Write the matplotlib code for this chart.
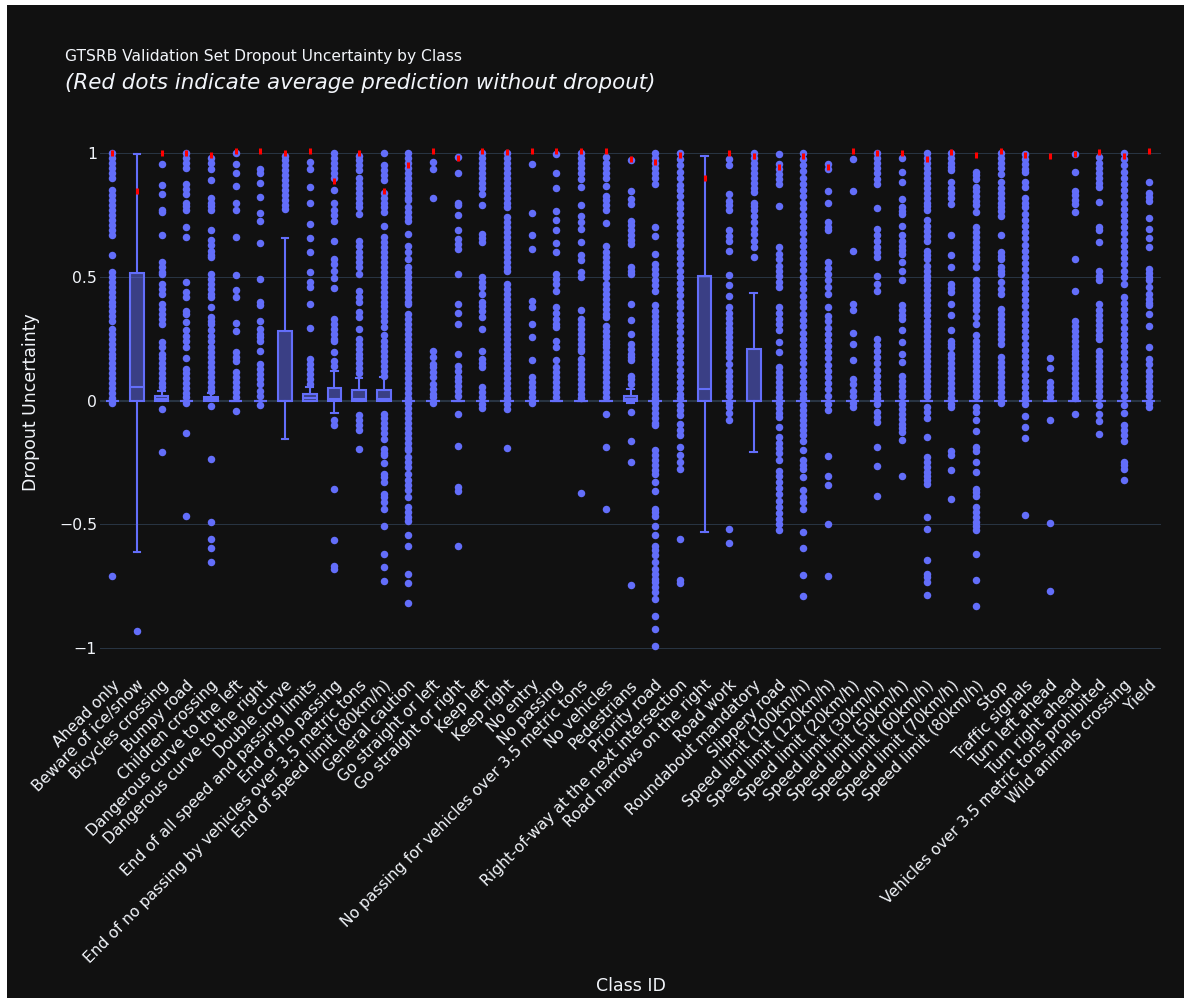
import matplotlib
matplotlib.use("Agg")
import matplotlib.pyplot as plt
from matplotlib.patches import Rectangle
from matplotlib.transforms import ScaledTranslation

class_names = [
    "Ahead only", "Beware of ice/snow", "Bicycles crossing", "Bumpy road",
    "Children crossing", "Dangerous curve to the left", "Dangerous curve to the right",
    "Double curve", "End of all speed and passing limits", "End of no passing",
    "End of no passing by vehicles over 3.5 metric tons", "End of speed limit (80km/h)",
    "General caution", "Go straight or left", "Go straight or right", "Keep left",
    "Keep right", "No entry", "No passing", "No passing for vehicles over 3.5 metric tons",
    "No vehicles", "Pedestrians", "Priority road", "Right-of-way at the next intersection",
    "Road narrows on the right", "Road work", "Roundabout mandatory", "Slippery road",
    "Speed limit (100km/h)", "Speed limit (120km/h)", "Speed limit (20km/h)",
    "Speed limit (30km/h)", "Speed limit (50km/h)", "Speed limit (60km/h)",
    "Speed limit (70km/h)", "Speed limit (80km/h)", "Stop", "Traffic signals",
    "Turn left ahead", "Turn right ahead", "Vehicles over 3.5 metric tons prohibited",
    "Wild animals crossing", "Yield",
]

# average prediction without dropout (red marks)
no_dropout_mean = [
    1.0, 0.845, 1.0, 1.0, 0.994, 1.007, 1.01, 1.0, 1.01, 0.886,
    1.0, 0.845, 0.952, 1.01, 0.979, 1.007, 1.003, 1.01, 1.01, 1.007,
    1.007, 0.974, 0.963, 0.994, 0.898, 1.0, 0.986, 0.945, 0.99, 0.945,
    1.01, 1.0, 1.0, 0.976, 1.003, 0.994, 1.01, 0.994, 0.99, 0.997,
    1.003, 0.987, 1.01,
]

# box statistics per class
box_q1 = [
    0, 0, 0, 0, 0, 0, 0, 0, 0, 0,
    0, 0, 0, 0, 0, 0, 0, 0, 0, 0,
    0, 0, 0, 0, 0, 0, 0, 0, 0, 0,
    0, 0, 0, 0, 0, 0, 0, 0, 0, 0,
    0, 0, 0,
]
box_median = [
    0, 0.054, 0.008, 0, 0.005, 0, 0, 0, 0.01, 0.008,
    0.008, 0.008, 0, 0, 0, 0, 0, 0, 0, 0,
    0, 0.006, 0, 0, 0.047, 0, 0, 0, 0, 0,
    0, 0, 0, 0, 0, 0, 0, 0, 0, 0,
    0, 0, 0,
]
box_q3 = [
    0, 0.514, 0.02, 0, 0.013, 0, 0, 0.279, 0.027, 0.051,
    0.043, 0.043, 0, 0, 0, 0, 0, 0, 0, 0,
    0, 0.02, 0, 0, 0.502, 0, 0.209, 0, 0, 0,
    0, 0, 0, 0, 0, 0, 0, 0, 0, 0,
    0, 0, 0,
]
whisker_low = [
    0, -0.614, 0, 0, 0, 0, 0, -0.155, 0, -0.051,
    0, 0, 0, 0, 0, 0, 0, 0, 0, 0,
    0, -0.01, 0, 0, -0.532, 0, -0.209, 0, 0, 0,
    0, 0, 0, 0, 0, 0, 0, 0, 0, 0,
    0, 0, 0,
]
whisker_high = [
    0, 0.997, 0.04, 0, 0.03, 0, 0, 0.657, 0.054, 0.12,
    0.09, 0.094, 0, 0, 0, 0, 0, 0, 0, 0,
    0, 0.045, 0, 0, 0.99, 0, 0.434, 0, 0, 0,
    0, 0, 0, 0, 0, 0, 0, 0, 0, 0,
    0, 0, 0,
]

# outlier points, one row per class
outliers = [
    [1.0, 0.98, 0.96, 0.94, 0.92, 0.9, 0.85, 0.83, 0.81, 0.79, 0.77, 0.75, 0.73, 0.71, 0.69,
     0.67, 0.59, 0.52, 0.5, 0.48, 0.46, 0.44, 0.42, 0.4, 0.38, 0.36, 0.34, 0.32, 0.29, 0.27,
     0.25, 0.23, 0.21, 0.19, 0.17, 0.15, 0.13, 0.11, 0.09, 0.07, 0.05, 0.03, 0.01, -0.01, -0.71],
    [-0.933],
    [0.956, 0.87, 0.835, 0.77, 0.76, 0.67, 0.56, 0.54, 0.52, 0.51, 0.47, 0.45, 0.43, 0.39, 0.37,
     0.35, 0.33, 0.31, 0.235, 0.215, 0.19, 0.17, 0.15, 0.13, 0.11, 0.09, 0.07, 0.055, -0.034, -0.206],
    [1.0, 0.98, 0.96, 0.94, 0.875, 0.855, 0.835, 0.8, 0.785, 0.77, 0.7, 0.66, 0.478, 0.44, 0.42,
     0.36, 0.35, 0.317, 0.283, 0.26, 0.24, 0.215, 0.17, 0.128, 0.11, 0.09, 0.07, 0.05, 0.03, 0.013,
     -0.01, -0.13, -0.465],
    [0.98, 0.96, 0.936, 0.89, 0.82, 0.8, 0.785, 0.77, 0.69, 0.65, 0.63, 0.606, 0.59, 0.58, 0.51,
     0.49, 0.47, 0.45, 0.43, 0.42, 0.377, 0.337, 0.32, 0.31, 0.283, 0.26, 0.24, 0.215, 0.195, 0.175,
     0.155, 0.135, 0.115, 0.095, 0.075, 0.055, 0.04, -0.023, -0.237, -0.49, -0.56, -0.597, -0.653],
    [1.0, 0.956, 0.92, 0.866, 0.8, 0.77, 0.66, 0.508, 0.445, 0.42, 0.314, 0.28, 0.195, 0.175, 0.16,
     0.115, 0.095, 0.075, 0.055, 0.035, 0.013, -0.044],
    [0.936, 0.92, 0.88, 0.824, 0.757, 0.727, 0.636, 0.49, 0.397, 0.384, 0.32, 0.29, 0.27, 0.255,
     0.24, 0.2, 0.148, 0.128, 0.108, 0.088, 0.067, 0.04, 0.02, -0.02],
    [0.99, 0.97, 0.95, 0.93, 0.91, 0.89, 0.87, 0.85, 0.83, 0.81, 0.79, 0.774],
    [0.963, 0.936, 0.862, 0.8, 0.714, 0.656, 0.602, 0.518, 0.478, 0.458, 0.39, 0.292, 0.168, 0.148,
     0.128, 0.108, 0.088, 0.067],
    [1.0, 0.98, 0.96, 0.94, 0.92, 0.9, 0.85, 0.8, 0.77, 0.75, 0.727, 0.646, 0.572, 0.55, 0.525,
     0.494, 0.454, 0.33, 0.31, 0.29, 0.27, 0.25, 0.24, 0.195, 0.16, 0.14, -0.078, -0.1, -0.357,
     -0.563, -0.667, -0.68],
    [0.99, 0.97, 0.95, 0.93, 0.9, 0.88, 0.86, 0.84, 0.82, 0.8, 0.78, 0.754, 0.646, 0.625, 0.6,
     0.58, 0.56, 0.54, 0.51, 0.444, 0.42, 0.397, 0.357, 0.337, 0.29, 0.25, 0.23, 0.21, 0.19, 0.17,
     0.15, 0.13, 0.11, -0.06, -0.08, -0.1, -0.12, -0.195],
    [1.0, 0.95, 0.93, 0.91, 0.89, 0.84, 0.82, 0.8, 0.78, 0.76, 0.704, 0.66, 0.64, 0.62, 0.6,
     0.58, 0.56, 0.54, 0.52, 0.5, 0.48, 0.46, 0.44, 0.42, 0.4, 0.38, 0.36, 0.34, 0.32, 0.296,
     0.263, 0.24, 0.22, 0.2, 0.18, 0.16, 0.14, 0.12, 0.1, -0.054, -0.07, -0.09, -0.11, -0.13,
     -0.155, -0.195, -0.21, -0.222, -0.252, -0.296, -0.31, -0.33, -0.377, -0.39, -0.41, -0.437,
     -0.508, -0.62, -0.673, -0.731],
    [1.0, 0.98, 0.96, 0.94, 0.92, 0.9, 0.88, 0.86, 0.84, 0.82, 0.81, 0.78, 0.76, 0.74, 0.727,
     0.673, 0.626, 0.6, 0.572, 0.54, 0.52, 0.5, 0.48, 0.46, 0.44, 0.42, 0.4, 0.39, 0.35, 0.33,
     0.31, 0.29, 0.27, 0.25, 0.23, 0.21, 0.19, 0.17, 0.15, 0.13, 0.11, 0.09, 0.07, 0.05, 0.03,
     0.01, -0.01, -0.03, -0.05, -0.07, -0.09, -0.11, -0.13, -0.15, -0.17, -0.19, -0.2, -0.23,
     -0.25, -0.27, -0.296, -0.323, -0.34, -0.36, -0.39, -0.43, -0.45, -0.47, -0.485, -0.545,
     -0.586, -0.7, -0.737, -0.819],
    [0.963, 0.936, 0.82, 0.2, 0.175, 0.148, 0.135, 0.115, 0.094, 0.067, 0.045, 0.025, 0.013, -0.01],
    [0.983, 0.92, 0.8, 0.788, 0.75, 0.69, 0.653, 0.633, 0.613, 0.51, 0.388, 0.353, 0.31, 0.19,
     0.14, 0.12, 0.094, 0.08, 0.06, 0.04, 0.02, -0.054, -0.182, -0.35, -0.364, -0.588],
    [1.0, 0.98, 0.96, 0.94, 0.92, 0.9, 0.88, 0.86, 0.835, 0.788, 0.673, 0.655, 0.64, 0.5, 0.48,
     0.46, 0.43, 0.397, 0.38, 0.36, 0.337, 0.287, 0.2, 0.168, 0.15, 0.135, 0.054, 0.035, 0.015,
     -0.015, -0.03],
    [1.0, 0.98, 0.96, 0.94, 0.92, 0.9, 0.88, 0.86, 0.84, 0.82, 0.8, 0.78, 0.74, 0.72, 0.7, 0.68,
     0.66, 0.64, 0.62, 0.6, 0.58, 0.56, 0.54, 0.525, 0.47, 0.45, 0.43, 0.41, 0.39, 0.37, 0.35,
     0.33, 0.31, 0.29, 0.27, 0.25, 0.23, 0.21, 0.19, 0.17, 0.15, 0.13, 0.11, 0.09, 0.07, 0.05,
     0.03, 0.01, -0.015, -0.034, -0.193],
    [0.956, 0.757, 0.667, 0.613, 0.404, 0.377, 0.31, 0.256, 0.164, 0.094, 0.075, 0.055, 0.035,
     0.015, -0.01],
    [0.997, 0.92, 0.858, 0.764, 0.73, 0.687, 0.636, 0.602, 0.51, 0.49, 0.47, 0.444, 0.377, 0.355,
     0.33, 0.31, 0.296, 0.242, 0.215, 0.162, 0.135, 0.115, 0.095, 0.075, 0.055, 0.035, 0.015],
    [1.0, 0.98, 0.96, 0.94, 0.92, 0.896, 0.862, 0.788, 0.747, 0.72, 0.694, 0.64, 0.586, 0.566,
     0.518, 0.498, 0.364, 0.33, 0.31, 0.29, 0.27, 0.25, 0.23, 0.21, 0.2, 0.168, 0.148, 0.128,
     0.108, 0.088, 0.068, 0.048, 0.028, 0.01, -0.374],
    [0.983, 0.96, 0.94, 0.92, 0.9, 0.866, 0.828, 0.81, 0.79, 0.768, 0.716, 0.626, 0.6, 0.58, 0.56,
     0.54, 0.52, 0.498, 0.47, 0.45, 0.43, 0.41, 0.39, 0.37, 0.35, 0.337, 0.303, 0.28, 0.26, 0.24,
     0.229, 0.215, 0.195, 0.175, 0.155, 0.135, 0.115, 0.095, 0.075, 0.055, 0.035, 0.015, -0.054,
     -0.189, -0.439],
    [0.97, 0.848, 0.815, 0.795, 0.727, 0.71, 0.69, 0.67, 0.65, 0.633, 0.54, 0.525, 0.51, 0.39,
     0.327, 0.267, 0.229, 0.21, 0.19, 0.175, 0.162, 0.1, 0.085, 0.067, -0.047, -0.162, -0.249,
     -0.747],
    [1.0, 0.98, 0.96, 0.94, 0.92, 0.9, 0.875, 0.7, 0.663, 0.593, 0.552, 0.53, 0.51, 0.485, 0.465,
     0.444, 0.384, 0.36, 0.34, 0.32, 0.3, 0.283, 0.27, 0.25, 0.23, 0.21, 0.19, 0.162, 0.148,
     0.128, 0.108, 0.088, 0.068, 0.048, 0.028, 0.01, -0.01, -0.03, -0.05, -0.07, -0.09, -0.1,
     -0.2, -0.22, -0.24, -0.26, -0.28, -0.296, -0.33, -0.364, -0.437, -0.45, -0.465, -0.508,
     -0.545, -0.586, -0.605, -0.625, -0.653, -0.68, -0.7, -0.72, -0.734, -0.755, -0.775, -0.8,
     -0.869, -0.923, -0.99],
    [1.0, 0.975, 0.95, 0.925, 0.9, 0.872, 0.85, 0.826, 0.8, 0.776, 0.752, 0.725, 0.7, 0.674,
     0.65, 0.627, 0.6, 0.575, 0.55, 0.523, 0.5, 0.476, 0.45, 0.425, 0.4, 0.377, 0.35, 0.324,
     0.3, 0.275, 0.25, 0.226, 0.2, 0.174, 0.15, 0.125, 0.1, 0.076, 0.05, 0.026, 0.01, -0.02,
     -0.04, -0.06, -0.094, -0.12, -0.141, -0.189, -0.222, -0.25, -0.276, -0.559, -0.725, -0.738],
    [],
    [0.976, 0.95, 0.835, 0.808, 0.788, 0.768, 0.687, 0.665, 0.646, 0.606, 0.508, 0.465, 0.424,
     0.377, 0.355, 0.335, 0.315, 0.295, 0.275, 0.255, 0.235, 0.215, 0.195, 0.175, 0.148, 0.12,
     0.1, 0.08, 0.06, 0.04, 0.02, -0.01, -0.027, -0.05, -0.08, -0.519, -0.576],
    [1.0, 0.98, 0.96, 0.94, 0.92, 0.9, 0.88, 0.86, 0.842, 0.8, 0.785, 0.768, 0.747, 0.72, 0.694,
     0.673, 0.645, 0.62, 0.58],
    [0.997, 0.956, 0.935, 0.915, 0.895, 0.875, 0.784, 0.62, 0.593, 0.572, 0.545, 0.525, 0.505,
     0.48, 0.458, 0.377, 0.355, 0.33, 0.31, 0.283, 0.236, 0.195, 0.135, 0.115, 0.095, 0.075,
     0.055, 0.035, 0.015, -0.01, -0.03, -0.05, -0.067, -0.108, -0.148, -0.17, -0.19, -0.21,
     -0.242, -0.283, -0.305, -0.33, -0.355, -0.377, -0.404, -0.43, -0.455, -0.48, -0.5, -0.525],
    [1.0, 0.976, 0.95, 0.927, 0.9, 0.874, 0.85, 0.825, 0.8, 0.777, 0.75, 0.724, 0.7, 0.676, 0.65,
     0.625, 0.6, 0.574, 0.55, 0.526, 0.5, 0.475, 0.45, 0.424, 0.4, 0.376, 0.35, 0.325, 0.3, 0.274,
     0.25, 0.226, 0.2, 0.175, 0.15, 0.124, 0.1, 0.075, 0.05, 0.026, 0.01, -0.02, -0.04, -0.06,
     -0.08, -0.1, -0.12, -0.14, -0.162, -0.2, -0.242, -0.26, -0.276, -0.31, -0.361, -0.39, -0.41,
     -0.437, -0.532, -0.597, -0.704, -0.788],
    [0.956, 0.936, 0.846, 0.8, 0.72, 0.7, 0.687, 0.559, 0.535, 0.51, 0.485, 0.46, 0.43, 0.377,
     0.343, 0.32, 0.295, 0.27, 0.245, 0.22, 0.195, 0.17, 0.145, 0.12, 0.095, 0.07, 0.045, 0.02,
     -0.015, -0.038, -0.226, -0.303, -0.34, -0.498, -0.711],
    [0.974, 0.845, 0.603, 0.39, 0.364, 0.273, 0.229, 0.162, 0.088, 0.067, 0.04, 0.02, -0.01, -0.027],
    [1.0, 0.98, 0.96, 0.94, 0.92, 0.895, 0.875, 0.777, 0.694, 0.67, 0.645, 0.62, 0.6, 0.58, 0.502,
     0.47, 0.444, 0.25, 0.225, 0.2, 0.175, 0.15, 0.125, 0.1, 0.075, 0.05, 0.025, 0.01, -0.015,
     -0.047, -0.065, -0.088, -0.186, -0.264, -0.384],
    [0.98, 0.925, 0.882, 0.815, 0.78, 0.765, 0.754, 0.707, 0.667, 0.646, 0.625, 0.61, 0.593,
     0.559, 0.525, 0.488, 0.384, 0.365, 0.345, 0.33, 0.285, 0.236, 0.189, 0.155, 0.1, 0.08, 0.06,
     0.04, 0.02, -0.015, -0.035, -0.055, -0.075, -0.095, -0.11, -0.128, -0.159, -0.303],
    [1.0, 0.98, 0.96, 0.94, 0.92, 0.9, 0.88, 0.86, 0.84, 0.82, 0.8, 0.785, 0.768, 0.73, 0.707,
     0.685, 0.665, 0.646, 0.606, 0.59, 0.572, 0.545, 0.525, 0.505, 0.485, 0.465, 0.445, 0.425,
     0.405, 0.385, 0.365, 0.345, 0.323, 0.303, 0.28, 0.26, 0.24, 0.22, 0.2, 0.18, 0.16, 0.14,
     0.12, 0.1, 0.08, 0.06, 0.04, 0.02, -0.025, -0.047, -0.071, -0.148, -0.229, -0.25, -0.27,
     -0.29, -0.303, -0.32, -0.337, -0.471, -0.519, -0.646, -0.7, -0.715, -0.734, -0.785],
    [1.0, 0.98, 0.96, 0.945, 0.93, 0.882, 0.86, 0.84, 0.82, 0.795, 0.667, 0.586, 0.539, 0.47,
     0.455, 0.438, 0.39, 0.345, 0.283, 0.242, 0.228, 0.215, 0.189, 0.17, 0.15, 0.13, 0.11, 0.09,
     0.07, 0.05, 0.03, 0.01, -0.015, -0.027, -0.202, -0.222, -0.28, -0.397],
    [0.923, 0.91, 0.896, 0.862, 0.845, 0.825, 0.805, 0.788, 0.761, 0.7, 0.68, 0.66, 0.64, 0.62,
     0.6, 0.58, 0.566, 0.539, 0.485, 0.465, 0.445, 0.425, 0.405, 0.385, 0.364, 0.337, 0.31, 0.263,
     0.24, 0.22, 0.2, 0.18, 0.16, 0.14, 0.12, 0.1, 0.08, 0.06, 0.04, 0.02, -0.025, -0.047, -0.078,
     -0.124, -0.189, -0.202, -0.249, -0.29, -0.357, -0.37, -0.384, -0.431, -0.45, -0.47, -0.49,
     -0.505, -0.525, -0.622, -0.724, -0.831],
    [1.0, 0.98, 0.96, 0.94, 0.916, 0.882, 0.86, 0.84, 0.82, 0.8, 0.78, 0.765, 0.747, 0.67, 0.6,
     0.585, 0.572, 0.539, 0.525, 0.51, 0.478, 0.45, 0.43, 0.37, 0.35, 0.33, 0.31, 0.29, 0.27,
     0.25, 0.229, 0.175, 0.155, 0.135, 0.115, 0.095, 0.075, 0.055, 0.035, 0.015, -0.01],
    [0.997, 0.975, 0.955, 0.935, 0.923, 0.882, 0.862, 0.82, 0.8, 0.78, 0.755, 0.73, 0.705, 0.68,
     0.655, 0.63, 0.605, 0.58, 0.555, 0.53, 0.505, 0.48, 0.455, 0.43, 0.405, 0.38, 0.355, 0.33,
     0.305, 0.28, 0.255, 0.23, 0.205, 0.18, 0.155, 0.13, 0.105, 0.08, 0.055, 0.03, 0.01, -0.015,
     -0.063, -0.108, -0.151, -0.461],
    [0.171, 0.132, 0.074, 0.055, 0.035, 0.015, -0.078, -0.496, -0.768],
    [0.997, 0.925, 0.848, 0.83, 0.812, 0.795, 0.762, 0.572, 0.444, 0.323, 0.3, 0.28, 0.26, 0.24,
     0.22, 0.2, 0.189, 0.17, 0.15, 0.13, 0.11, 0.09, 0.07, 0.05, 0.03, 0.01, -0.054],
    [0.983, 0.96, 0.94, 0.92, 0.9, 0.88, 0.862, 0.804, 0.7, 0.687, 0.64, 0.525, 0.505, 0.485,
     0.39, 0.364, 0.345, 0.325, 0.305, 0.285, 0.265, 0.25, 0.2, 0.18, 0.16, 0.14, 0.12, 0.1, 0.08,
     0.06, 0.04, 0.02, -0.02, -0.054, -0.084, -0.135],
    [1.0, 0.975, 0.95, 0.925, 0.9, 0.875, 0.85, 0.825, 0.8, 0.775, 0.75, 0.725, 0.7, 0.675, 0.65,
     0.625, 0.6, 0.575, 0.55, 0.525, 0.5, 0.47, 0.417, 0.395, 0.37, 0.345, 0.32, 0.295, 0.27,
     0.245, 0.22, 0.195, 0.17, 0.145, 0.12, 0.095, 0.07, 0.045, 0.02, -0.02, -0.05, -0.1, -0.12,
     -0.14, -0.162, -0.249, -0.262, -0.276, -0.323],
    [0.882, 0.838, 0.822, 0.808, 0.738, 0.694, 0.657, 0.62, 0.532, 0.515, 0.5, 0.485, 0.46, 0.43,
     0.41, 0.395, 0.384, 0.35, 0.3, 0.218, 0.168, 0.148, 0.12, 0.1, 0.08, 0.06, 0.04, 0.02, -0.01,
     -0.027],
]

BG = "#111111"
BLUE = "#636efa"
GRID = "#283442"
TEXT = "#f2f5fa"

W, H = 1184, 998
fig = plt.figure(figsize=(W / 100, H / 100), dpi=100, facecolor=BG)
ax = fig.add_axes([100 / W, 1 - 660.4 / H, 1061 / W, 524.7 / H], facecolor=BG)

stats = []
for i in range(len(class_names)):
    stats.append(dict(q1=box_q1[i], med=box_median[i], q3=box_q3[i],
                      whislo=whisker_low[i], whishi=whisker_high[i],
                      fliers=outliers[i]))

pos = list(range(len(class_names)))
ax.bxp(stats, positions=pos, widths=0.55, capwidths=0.275, patch_artist=True,
       manage_ticks=False,
       boxprops=dict(facecolor=(99 / 255, 110 / 255, 250 / 255, 0.5), edgecolor=BLUE, linewidth=1.5),
       medianprops=dict(color=BLUE, linewidth=1.5),
       whiskerprops=dict(color=BLUE, linewidth=1.5),
       capprops=dict(color=BLUE, linewidth=1.5),
       flierprops=dict(marker="o", markerfacecolor=BLUE, markeredgecolor="none", markersize=5.4),
       zorder=3)

ax.plot(pos, no_dropout_mean, linestyle="none", marker="|", color="red",
        markersize=5, markeredgewidth=2.2, zorder=5)

ax.set_xlim(-0.5, len(class_names) - 0.5)
ax.set_ylim(-1.05, 1.07)

ax.set_yticks([-1, -0.5, 0, 0.5, 1])
ax.set_yticklabels(["\u22121", "\u22120.5", "0", "0.5", "1"])
ax.yaxis.grid(True, color=GRID, linewidth=0.75)
ax.axhline(0, color=GRID, linewidth=1.5, zorder=1)
ax.set_axisbelow(True)

ax.set_xticks(pos)
ax.set_xticklabels(class_names, rotation=45, ha="right", va="center", rotation_mode="anchor")
ax.tick_params(axis="x", length=0, pad=16, labelsize=11.2, labelcolor=TEXT)
ax.tick_params(axis="y", length=0, pad=2, labelsize=11.3, labelcolor=TEXT)
shift = ScaledTranslation(5 / 100, 0, fig.dpi_scale_trans)
for lab in ax.get_xticklabels():
    lab.set_transform(lab.get_transform() + shift)

for s in ax.spines.values():
    s.set_visible(False)

fig.text(65 / W, 1 - 57 / H, "GTSRB Validation Set Dropout Uncertainty by Class",
         fontsize=11.2, color=TEXT, ha="left", va="center")
fig.text(65 / W, 1 - 83 / H, "(Red dots indicate average prediction without dropout)",
         fontsize=15.4, color=TEXT, ha="left", va="center", style="italic")
fig.text(31 / W, 1 - 402 / H, "Dropout Uncertainty", fontsize=12.5, color=TEXT,
         rotation=90, ha="center", va="center")
fig.text(630.5 / W, 1 - 986 / H, "Class ID", fontsize=12.5, color=TEXT, ha="center", va="center")

# white strip along the left and top edges
fig.patches.append(Rectangle((0, 0), 7 / W, 1, transform=fig.transFigure,
                             facecolor="white", edgecolor="none", zorder=10))
fig.patches.append(Rectangle((0, 1 - 5 / H), 1, 5 / H, transform=fig.transFigure,
                             facecolor="white", edgecolor="none", zorder=10))

fig.savefig("out.png", dpi=100, facecolor=BG)
